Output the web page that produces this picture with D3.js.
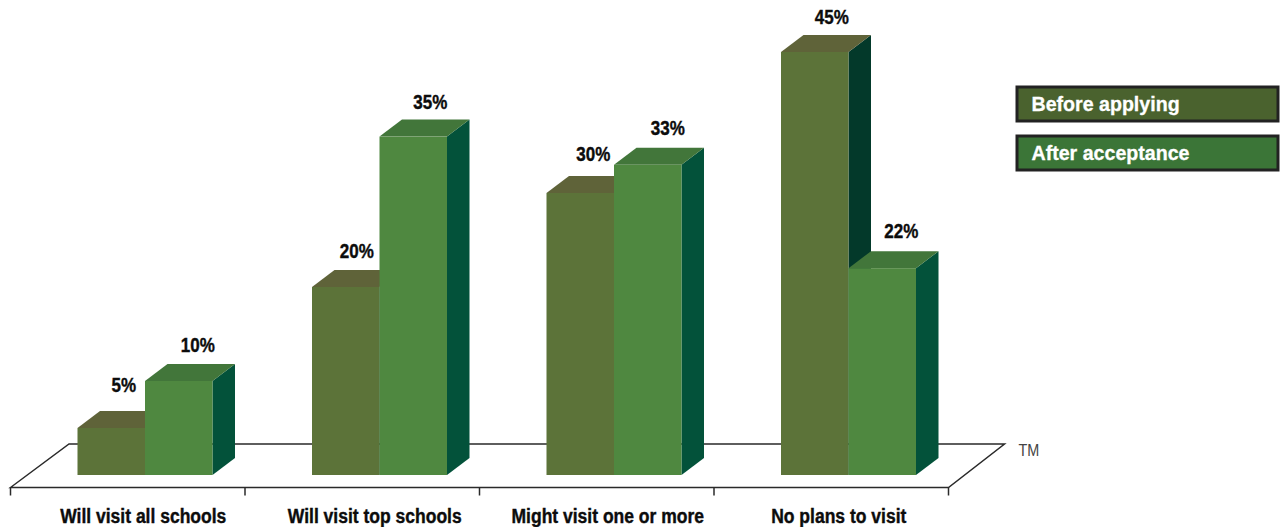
<!DOCTYPE html>
<html><head><meta charset="utf-8">
<script src="https://cdn.jsdelivr.net/npm/d3@7"></script>
<style>html,body{margin:0;padding:0;background:#fff;overflow:hidden}svg{display:block}
text{font-family:"Liberation Sans",Arial,sans-serif;font-weight:700;fill:#0c0c0c}</style>
</head><body><svg id="c" width="1285" height="527"></svg>
<script>
const categories = ["Will visit all schools","Will visit top schools","Might visit one or more","No plans to visit"];
const seriesNames = ["Before applying","After acceptance"];
// Bar heights (the second group's green bar stands a little above its 35% label)
const beforeValues = [5,20,30,45];
const afterValues = [10,36,33,22];
const beforeLabels = ["5%","20%","30%","45%"];
const afterLabels = ["10%","35%","33%","22%"];

const svg = d3.select("#c");
const W = {l:10.5,r:948.5}, baseY = 475, frontY = 487.5, backY = 444;
const depth = {x:22.5,y:17};
const x = d3.scaleBand().domain(categories).range([W.l,W.r]);
const inner = d3.scaleBand().domain(seriesNames).range([67,202]);
const y = d3.scaleLinear().domain([0,45]).range([baseY,52]);
const colors = {
  "Before applying":{front:"#5c7339",top:"#5f6339",side:"#03392a",legend:"#4a622e"},
  "After acceptance":{front:"#4f8840",top:"#42763a",side:"#03523a",legend:"#3b7537"}
};
const rows = [];
categories.forEach((c,i)=>{
  rows.push({c,s:seriesNames[0],v:beforeValues[i],l:beforeLabels[i]});
  rows.push({c,s:seriesNames[1],v:afterValues[i],l:afterLabels[i]});
});
// Condense text horizontally, as the narrow face of the reference does
function condense(sel, ratio){
  sel.each(function(){
    const n = this.getComputedTextLength();
    d3.select(this).attr("textLength",n*ratio).attr("lengthAdjust","spacingAndGlyphs");
  });
}
// floor
const floor = svg.append("g").attr("fill","none").attr("stroke","#2a2a2a").attr("stroke-width",1.5);
floor.append("path").attr("d",`M${W.l},${frontY}L${W.l+depth.x*2.6},${backY}H${W.r+56}L${W.r},${frontY}Z`);
const edges = categories.map(c=>x(c)).concat([x(categories[3])+x.bandwidth()]);
floor.selectAll("line").data(edges).join("line")
  .attr("x1",d=>d).attr("x2",d=>d).attr("y1",frontY).attr("y2",frontY+8);

// bars
const bars = svg.append("g").selectAll("g").data(rows).join("g");
const X0=d=>x(d.c)+inner(d.s), X1=d=>X0(d)+inner.bandwidth();
bars.append("path").attr("fill",d=>colors[d.s].side)
  .attr("d",d=>`M${X1(d)},${y(d.v)}l${depth.x},${-depth.y}V${baseY-depth.y}l${-depth.x},${depth.y}Z`);
bars.append("path").attr("fill",d=>colors[d.s].top)
  .attr("d",d=>`M${X0(d)},${y(d.v)}l${depth.x},${-depth.y}H${X1(d)+depth.x}l${-depth.x},${depth.y}Z`);
bars.append("rect").attr("fill",d=>colors[d.s].front)
  .attr("x",X0).attr("y",d=>y(d.v)).attr("width",inner.bandwidth()).attr("height",d=>baseY-y(d.v));

// value labels
const nudge = {"5%":[12.5,-36],"10%":[19,-29],"20%":[11,-29],"35%":[17,-28],"30%":[13,-32],"33%":[20,-30],"45%":[17,-28],"22%":[19,-30]};
svg.append("g").selectAll("text").data(rows).join("text")
  .attr("text-anchor","middle").attr("font-size",20).attr("stroke","#0c0c0c").attr("stroke-width",0.4)
  .attr("x",d=>X0(d)+inner.bandwidth()/2+nudge[d.l][0])
  .attr("y",d=>y(d.v)+nudge[d.l][1]).text(d=>d.l).call(condense,0.85);

// category labels
const labelShift=[15.5,12.5,11,7.5];
const axis = svg.append("g").attr("transform",`translate(0,522.5)`)
  .call(d3.axisBottom(x).tickSize(0).tickPadding(0));
axis.select(".domain").remove();
axis.attr("font-family",null).attr("font-size",null);
axis.selectAll("text").attr("dy",0).attr("y",0).attr("font-size",20).attr("stroke","#0c0c0c").attr("stroke-width",0.4)
  .attr("dx",(d,i)=>labelShift[i]).call(condense,0.875);

// legend
const lg = svg.append("g").selectAll("g").data(seriesNames).join("g")
  .attr("transform",(d,i)=>`translate(1017,${87+i*49})`);
lg.append("rect").attr("width",261).attr("height",34)
  .attr("fill",d=>colors[d].legend).attr("stroke","#222").attr("stroke-width",3);
lg.append("text").attr("x",14.5).attr("y",24).attr("font-size",20).attr("stroke","#fff").attr("stroke-width",0.3).style("fill","#fff").text(d=>d).call(condense,0.98);

svg.append("text").attr("x",1018.5).attr("y",456).attr("font-size",16)
  .style("font-weight",400).style("fill","#444").text("TM").call(condense,0.9);
</script></body></html>
